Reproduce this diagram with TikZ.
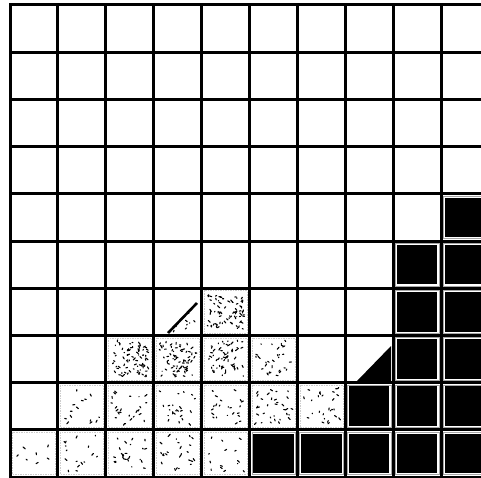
\documentclass[tikz,border=0pt]{standalone}
\begin{document}
\begin{tikzpicture}[x=1pt,y=-1pt,
  gridline/.style={line width=3pt,black,line cap=rect},
  blackcell/.style={fill=black},
  cellframe/.style={draw=black!35,line width=0.6pt},
  stipframe/.style={draw=black!20,line width=0.5pt,dash pattern=on 1.5pt off 1pt},
  speck/.style={line width=1.1pt,black,line cap=round}]
\useasboundingbox (0,0) rectangle (481,478);
\fill[white] (0,0) rectangle (481,478);
\def\cw{47.9}
\def\ch{47.2}
\pgfmathsetseed{4711}
% black cells
\foreach \c/\r in {9/4,8/5,9/5,8/6,9/6,8/7,9/7,7/8,8/8,9/8,5/9,6/9,7/9,8/9,9/9}{
  \pgfmathsetmacro\xa{10+\c*\cw}
  \pgfmathsetmacro\ya{5+\r*\ch}
  \draw[cellframe] (\xa+2.3,\ya+2.3) rectangle (\xa+\cw-2.3,\ya+\ch-2.3);
  \fill[blackcell] (\xa+3.8,\ya+3.8) rectangle (\xa+\cw-3.8,\ya+\ch-3.8);
}
% stippled cells
\foreach \c/\r/\n in {4/6/75,2/7/80,3/7/70,4/7/60,5/7/30,1/8/14,2/8/24,3/8/22,4/8/22,5/8/32,6/8/26,0/9/7,1/9/16,2/9/24,3/9/24,4/9/14}{
  \pgfmathsetmacro\xa{10+\c*\cw}
  \pgfmathsetmacro\ya{5+\r*\ch}
  \draw[stipframe] (\xa+2.5,\ya+2.5) rectangle (\xa+\cw-2.5,\ya+\ch-2.5);
  \foreach \k in {1,...,\n}{
    \pgfmathsetmacro\px{\xa+6+rnd*(\cw-12)}
    \pgfmathsetmacro\py{\ya+6+rnd*(\ch-12)}
    \pgfmathsetmacro\dx{rand*2.2}
    \pgfmathsetmacro\dy{rand*2.2}
    \draw[speck] (\px,\py) -- ++(\dx,\dy);
  }
}
% half cell, row 6 col 3 (stippled triangle with heavy diagonal)
\coordinate (ta) at (168,333);
\coordinate (tb) at (197,303);
\coordinate (tc) at (197,333);
\foreach \k in {1,...,12}{
  \pgfmathsetmacro\u{rnd}
  \pgfmathsetmacro\v{rnd*\u}
  \pgfmathsetmacro\px{170+\u*25}
  \pgfmathsetmacro\py{331-\v*25}
  \draw[speck] (\px,\py) -- ++(rand*1.8,rand*1.8);
}
\draw[line width=2.6pt,black] (ta) -- (tb);
% half cell, row 7 col 7 (black triangle)
\coordinate (ua) at (357,381);
\coordinate (ub) at (391,346);
\coordinate (uc) at (391,381);
\fill[black] (ua) -- (ub) -- (uc) -- cycle;
% grid
\foreach \i in {0,...,9}{
  \draw[gridline] (10+\i*\cw,5) -- (10+\i*\cw,478);
}
\foreach \j in {0,...,10}{
  \draw[gridline] (10,5+\j*\ch) -- (481,5+\j*\ch);
}
\end{tikzpicture}
\end{document}
